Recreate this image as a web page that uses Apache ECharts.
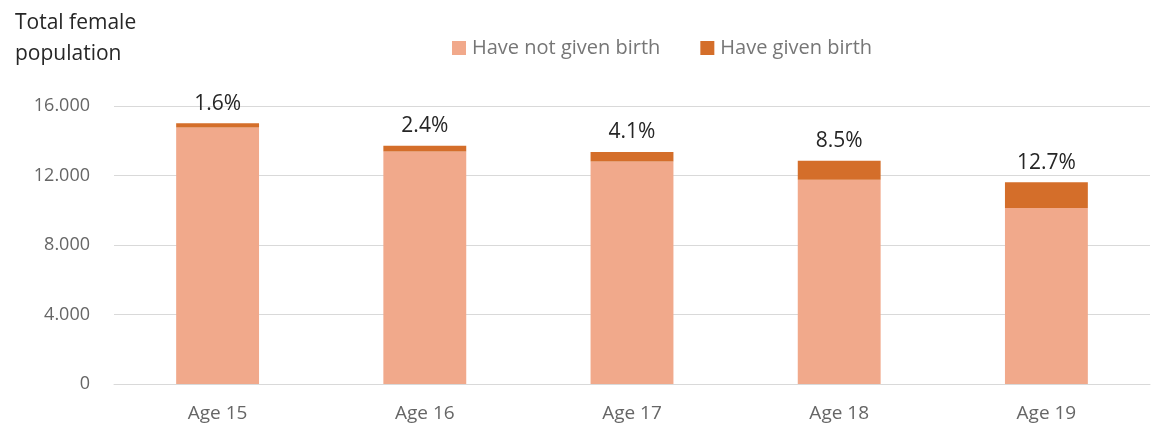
<!DOCTYPE html>
<html><head><meta charset="utf-8">
<script src="https://cdn.jsdelivr.net/npm/echarts@6/dist/echarts.min.js"></script>
<style>html,body{margin:0;padding:0;background:#fff}#c{width:1168px;height:430px}</style>
</head><body><div id="c"></div>
<script>
const categories = ['Age 15','Age 16','Age 17','Age 18','Age 19'];
const notGivenBirth = [14763, 13385, 12805, 11759, 10134];
const givenBirth = [240, 329, 547, 1092, 1474];
const shareLabels = ['1.6%','2.4%','4.1%','8.5%','12.7%'];
const yTicks = [0, 4000, 8000, 12000, 16000];

const FONT = "'Open Sans', 'Noto Sans', sans-serif";
const chart = echarts.init(document.getElementById('c'));
chart.setOption({
  animation: false,
  textStyle: {fontFamily: FONT},
  title: {
    text: 'Total female\npopulation',
    left: 10, top: 3,
    textStyle: {fontFamily: FONT, fontSize: 21, fontWeight: 'normal', color: '#262626', lineHeight: 31}
  },
  legend: {
    top: 33, left: 447,
    itemWidth: 14, itemHeight: 14, itemGap: 40,
    icon: 'rect',
    textStyle: {fontFamily: FONT, fontSize: 20, color: '#767676', padding: [0,0,0,1]},
    data: ['Have not given birth', 'Have given birth']
  },
  grid: {left: 114, right: 18, top: 106, bottom: 46},
  xAxis: {
    type: 'category', data: categories,
    axisLine: {lineStyle: {color: '#d9d9d9', width: 1}},
    axisTick: {show: false},
    axisLabel: {fontFamily: FONT, fontSize: 19, color: '#666666', margin: 20}
  },
  yAxis: {
    type: 'value', min: yTicks[0], max: yTicks[yTicks.length-1], interval: 4000,
    axisLine: {show: false}, axisTick: {show: false},
    splitLine: {lineStyle: {color: '#d9d9d9', width: 1}},
    axisLabel: {fontFamily: FONT, fontSize: 18, color: '#666666', margin: 24,
      formatter: v => v.toLocaleString('en-US').replace(/,/g, '.')}
  },
  series: [
    {name: 'Have not given birth', type: 'bar', stack: 'a', data: notGivenBirth,
     barWidth: '40%', itemStyle: {color: '#f1a98b'}},
    {name: 'Have given birth', type: 'bar', stack: 'a', data: givenBirth,
     barWidth: '40%', itemStyle: {color: '#d46e2a'},
     label: {show: true, position: 'top', distance: 9,
       formatter: p => shareLabels[p.dataIndex],
       fontFamily: FONT, fontSize: 21, color: '#262626'}}
  ]
});
</script></body></html>
